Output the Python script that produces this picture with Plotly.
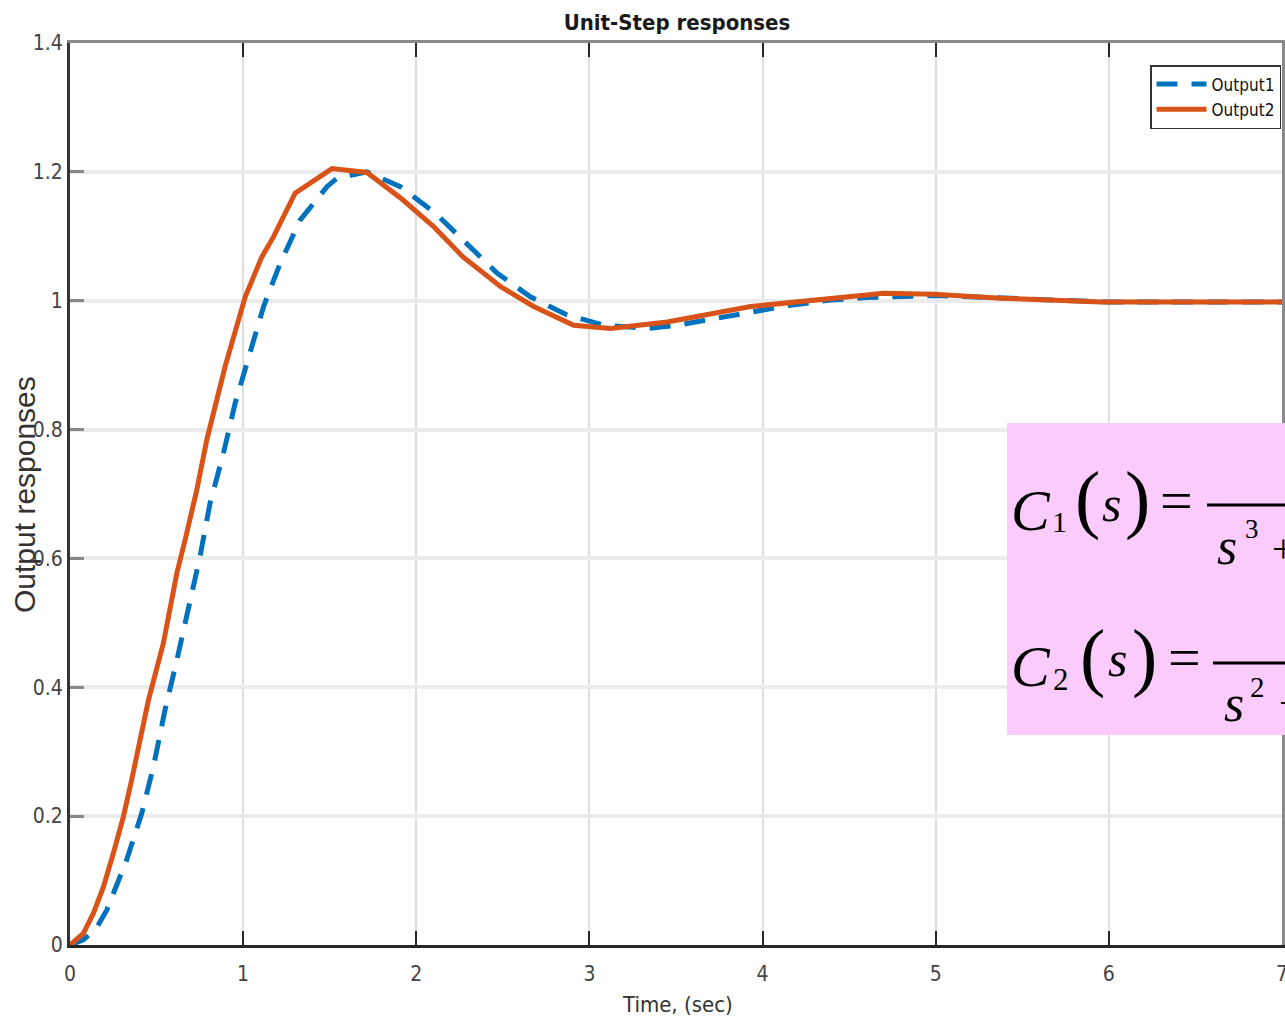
import plotly.graph_objects as go

# ---------------- data ----------------
t_out1 = [0.0, 0.077, 0.15, 0.212, 0.327, 0.414, 0.482, 0.549, 0.617, 0.684, 0.751, 0.809,
          0.886, 0.954, 1.021, 1.118, 1.214, 1.329, 1.484, 1.542, 1.715, 1.908, 2.11, 2.293,
          2.466, 2.659, 2.871, 3.083, 3.333, 3.507, 3.738, 3.95, 4.162, 4.393, 4.605, 5.0,
          5.4, 6.0, 6.5, 7.0]
y_out1 = [0.0, 0.008, 0.025, 0.054, 0.132, 0.204, 0.277, 0.365, 0.442, 0.52, 0.603, 0.686,
          0.763, 0.841, 0.903, 0.991, 1.058, 1.125, 1.177, 1.19, 1.200, 1.177, 1.136, 1.089,
          1.043, 1.006, 0.978, 0.962, 0.957, 0.962, 0.973, 0.983, 0.993, 1.001, 1.005, 1.008,
          1.004, 0.998, 0.998, 0.998]

t_out2 = [0.0, 0.077, 0.135, 0.193, 0.25, 0.308, 0.356, 0.405, 0.453, 0.539, 0.578, 0.617,
          0.665, 0.732, 0.79, 0.896, 1.012, 1.108, 1.175, 1.30, 1.513, 1.715, 1.92, 2.10,
          2.27, 2.486, 2.678, 2.909, 3.121, 3.449, 3.931, 4.509, 4.70, 4.99, 5.376, 5.954,
          6.5, 7.0]
y_out2 = [0.0, 0.018, 0.049, 0.09, 0.142, 0.199, 0.256, 0.318, 0.38, 0.468, 0.525, 0.577,
          0.629, 0.706, 0.784, 0.898, 1.006, 1.068, 1.099, 1.167, 1.205, 1.199, 1.157, 1.115,
          1.068, 1.022, 0.991, 0.962, 0.957, 0.967, 0.991, 1.007, 1.0115, 1.01, 1.004, 0.998,
          0.998, 0.998]

x_ticks = [0, 1, 2, 3, 4, 5, 6, 7]
x_tick_text = ["0", "1", "2", "3", "4", "5", "6", "7"]
y_ticks = [0, 0.2, 0.4, 0.6, 0.8, 1.0, 1.2, 1.4]
y_tick_text = ["0", "0.2", "0.4", "0.6", "0.8", "1", "1.2", "1.4"]

series_names = ["Output1", "Output2"]
title_text = "Unit-Step responses"
x_label = "Time, (sec)"
y_label = "Output responses"

# ---------------- layout helpers ----------------
W, H = 1285, 1023
L, R, T, B = 70, 1282, 43, 945


def px_x(p):
    return (p - L) / (R - L)


def px_y(p):
    return (B - p) / (B - T)


NARROW = "Liberation Sans Narrow, Arial Narrow, DejaVu Sans Condensed, Liberation Sans, sans-serif"
SANS = "Liberation Sans, Arial, sans-serif"
SERIF = "Liberation Serif, Times New Roman, serif"

BLUE = "#0072BD"
ORANGE = "#D95319"

fig = go.Figure()
fig.add_trace(go.Scatter(x=t_out1, y=y_out1, mode="lines", name=series_names[0],
                         line=dict(color=BLUE, width=5, dash="21px,14px")))
fig.add_trace(go.Scatter(x=t_out2, y=y_out2, mode="lines", name=series_names[1],
                         line=dict(color=ORANGE, width=5)))
# empty helper traces so the top and right box axes get drawn
fig.add_trace(go.Scatter(x=[None], y=[None], xaxis="x2", yaxis="y", showlegend=False,
                         hoverinfo="skip"))
fig.add_trace(go.Scatter(x=[None], y=[None], xaxis="x", yaxis="y2", showlegend=False,
                         hoverinfo="skip"))

fig.update_layout(
    width=W, height=H,
    margin=dict(l=L, r=W - R, t=T, b=H - B, pad=0, autoexpand=False),
    paper_bgcolor="white", plot_bgcolor="white",
    title=dict(text="<b>" + title_text + "</b>", x=px_x(677), xref="paper",
               xanchor="center", y=1 - 22 / H, yref="container", yanchor="middle",
               font=dict(family=NARROW, size=22, color="#1a1a1a")),
    xaxis=dict(range=[0, 7], tickvals=x_ticks, ticktext=x_tick_text,
               showgrid=True, gridcolor="#dedede", gridwidth=1.5,
               showline=True, linecolor="#262626", linewidth=3,
               ticks="inside", ticklen=14, tickwidth=2, tickcolor="#262626",
               ticklabelstandoff=8, ticklabeloverflow="allow", automargin=False,
               tickfont=dict(family=NARROW, size=21, color="#444444"),
               zeroline=False),
    yaxis=dict(range=[0, 1.4], tickvals=y_ticks, ticktext=y_tick_text,
               showgrid=True, gridcolor="#ebebeb", gridwidth=4,
               showline=True, linecolor="#333333", linewidth=3,
               ticks="inside", ticklen=14, tickwidth=3, tickcolor="#888888",
               ticklabelstandoff=0, automargin=False,
               tickfont=dict(family=NARROW, size=21, color="#444444"),
               zeroline=False),
    xaxis2=dict(range=[0, 7], overlaying="x", side="top", anchor="y",
                tickvals=x_ticks, showticklabels=False, showgrid=False,
                showline=True, linecolor="#8a8a8a", linewidth=3, automargin=False,
                ticks="inside", ticklen=14, tickwidth=2, tickcolor="#262626",
                zeroline=False),
    yaxis2=dict(range=[0, 1.4], overlaying="y", side="right", anchor="x",
                showticklabels=False, showgrid=False, automargin=False,
                showline=True, linecolor="#8a8a8a", linewidth=3,
                ticks="", zeroline=False),
    legend=dict(x=px_x(1150), y=px_y(65), xanchor="left", yanchor="top",
                bgcolor="white", bordercolor="#333333", borderwidth=1.5,
                font=dict(family=NARROW, size=17, color="#111111"),
                tracegroupgap=0, itemwidth=50),
    showlegend=True,
)

# axis titles as annotations
fig.add_annotation(text=x_label, xref="paper", yref="paper", x=px_x(677), y=px_y(1005),
                   xanchor="center", yanchor="middle", showarrow=False,
                   font=dict(family=NARROW, size=22, color="#333333"))
fig.add_annotation(text=y_label, xref="paper", yref="paper", x=px_x(24), y=px_y(495),
                   xanchor="center", yanchor="middle", showarrow=False, textangle=-90,
                   font=dict(family=SANS, size=30, color="#333333"))

# pink formula box
fig.add_shape(type="rect", xref="paper", yref="paper", x0=px_x(1007), x1=px_x(1320),
              y0=px_y(735), y1=px_y(423), fillcolor="#FBCBFB", line=dict(width=0),
              layer="above")
for y_line, x_start in [(505, 1207), (663, 1213)]:
    fig.add_shape(type="line", xref="paper", yref="paper", x0=px_x(x_start), x1=px_x(1320),
                  y0=px_y(y_line), y1=px_y(y_line), line=dict(color="black", width=3),
                  layer="above")

# glyphs: (text, center x px, annotation y px, size, italic)
glyphs = [
    ("C", 1031, 510.5, 58, True),
    ("1", 1059, 521.5, 30, False),
    ("(", 1087, 498.5, 76, False),
    ("s", 1111, 503.5, 50, True),
    (")", 1137.5, 498.5, 76, False),
    ("=", 1176.5, 500.5, 58, False),
    ("s", 1226.5, 546.6, 52, True),
    ("3", 1251.5, 529, 27, False),
    ("+", 1283, 548.2, 40, False),
    ("C", 1031, 666, 58, True),
    ("2", 1061, 679.5, 31, False),
    ("(", 1092, 656.5, 76, False),
    ("s", 1117, 659.4, 50, True),
    (")", 1144, 656.5, 76, False),
    ("=", 1184, 657, 58, False),
    ("s", 1233.5, 703.6, 52, True),
    ("2", 1257.5, 687, 29, False),
    ("+", 1290, 702.5, 40, False),
]
for txt, gx, gy, size, ital in glyphs:
    fig.add_annotation(text=("<i>" + txt + "</i>") if ital else txt,
                       xref="paper", yref="paper", x=px_x(gx), y=px_y(gy),
                       xanchor="center", yanchor="middle", showarrow=False,
                       borderpad=0,
                       font=dict(family=SERIF, size=size, color="black"))

fig.write_html("out.html", include_plotlyjs=True, full_html=True,
               config={"displayModeBar": False},
               post_script="document.body.style.margin='0';document.body.style.overflow='hidden';")
